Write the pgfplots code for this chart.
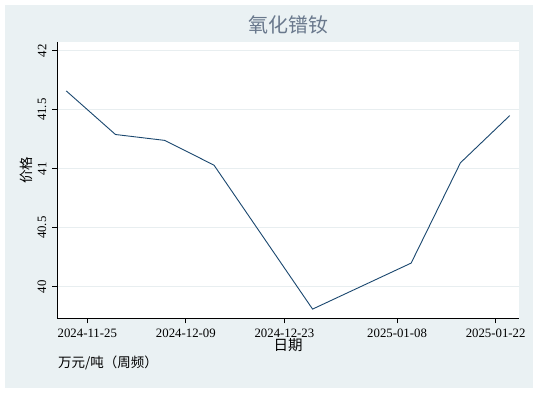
\documentclass[border=0pt]{standalone}
\usepackage{fontspec}
\setmainfont{Liberation Serif}
\newfontfamily\cjk{Noto Sans CJK SC}
\usepackage{pgfplots}
\usepackage{pgfplotstable}
\pgfplotsset{compat=1.18}
\definecolor{bgc}{RGB}{234,241,243}
\definecolor{gridc}{RGB}{232,238,240}
\definecolor{linec}{RGB}{26,71,111}
\definecolor{titlec}{RGB}{105,120,140}
\pgfplotstableread{
day price
-3 41.66
4 41.29
11 41.24
18 41.03
32 39.81
46 40.20
53 41.05
60 41.45
}\pricedata
\begin{document}
\begin{tikzpicture}
\useasboundingbox (0,0) rectangle (538bp,-394bp);
\fill[white] (0,0) rectangle (538bp,-394bp);
\fill[bgc] (5bp,-5bp) rectangle (533bp,-388bp);
\begin{axis}[
 at={(57.3bp,-318.3bp)}, anchor=south west,
 width=461.7bp, height=276.3bp, scale only axis,
 xmin=-4.26, xmax=61.32, ymin=39.732, ymax=42.074,
 axis background/.style={fill=white},
 axis line style={draw=none},
 clip=false,
 tick pos=left, tick align=outside,
 major tick length=5bp,
 tick style={black, line width=0.8bp},
 xtick={0,14,28,44,58},
 xticklabels={2024-11-25,2024-12-09,2024-12-23,2025-01-08,2025-01-22},
 ytick={40,40.5,41,41.5,42},
 yticklabels={40,40.5,41,41.5,42},
 ymajorgrids, grid style={gridc, line width=0.8bp},
 ticklabel style={font=\fontsize{12.8bp}{14bp}\selectfont, black},
 yticklabel style={rotate=90, anchor=south},
 xticklabel style={anchor=north},
 yticklabel shift=2.5bp,
 xticklabel shift=2.5bp,
]
\addplot[linec, line width=0.9bp] table[x=day,y=price]{\pricedata};
\draw[black, line width=0.9bp] (rel axis cs:0,1) -- (rel axis cs:0,0) -- (rel axis cs:1,0);
\end{axis}
\node[titlec, font=\cjk\fontsize{20bp}{22bp}\selectfont] at (288bp,-25bp) {氧化镨钕};
\node[font=\cjk\fontsize{14.5bp}{16bp}\selectfont] at (288bp,-345bp) {日期};
\node[rotate=90, font=\cjk\fontsize{13.5bp}{16bp}\selectfont] at (26bp,-170bp) {价格};
\node[anchor=west, inner sep=0pt, font=\cjk\fontsize{13.5bp}{16bp}\selectfont] at (58bp,-363bp) {万元/吨（周频）};
\end{tikzpicture}
\end{document}
